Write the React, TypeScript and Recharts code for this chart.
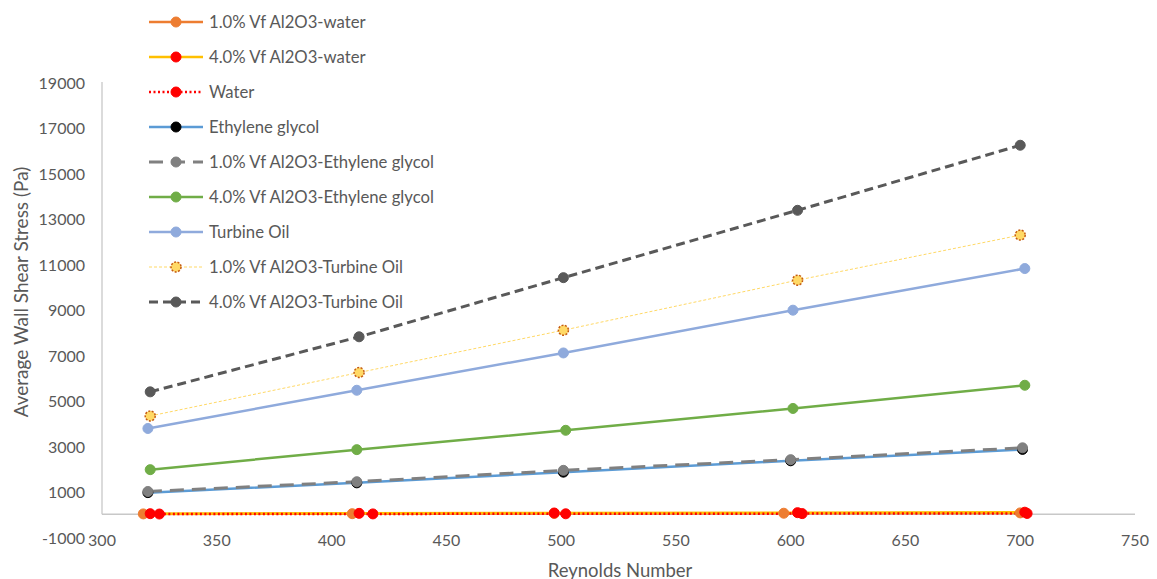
import React from 'react';
import { LineChart, Line, XAxis, YAxis, ReferenceLine } from 'recharts';

// Reynolds numbers (x) and average wall shear stress in Pa (y)
const reWater1 = [318, 409, 497, 597, 700];
const tauWater1 = [15, 25, 35, 45, 60];
const reWater4 = [321, 412, 497, 603, 702];
const tauWater4 = [25, 40, 55, 70, 90];
const reWater = [325, 418, 502, 605, 703];
const tauWater = [10, 15, 20, 28, 35];
const reEG = [320, 411, 501, 600, 701];
const tauEG = [950, 1380, 1850, 2350, 2850];
const reEG1 = [320, 411, 501, 600, 701];
const tauEG1 = [1000, 1430, 1930, 2400, 2920];
const reEG4 = [321, 411, 502, 601, 702];
const tauEG4 = [1960, 2840, 3690, 4650, 5670];
const reTO = [320, 411, 501, 601, 702];
const tauTO = [3770, 5450, 7090, 8970, 10800];
const reTO1 = [321, 412, 501, 603, 700];
const tauTO1 = [4320, 6230, 8090, 10290, 12270];
const reTO4 = [321, 412, 501, 603, 700];
const tauTO4 = [5380, 7800, 10400, 13360, 16220];

const xTicks = [300, 350, 400, 450, 500, 550, 600, 650, 700, 750];
const yTicks = [-1000, 1000, 3000, 5000, 7000, 9000, 11000, 13000, 15000, 17000, 19000];

const toRows = (re: number[], tau: number[]) => re.map((x, i) => ({ re: x, tau: tau[i] }));

type Series = {
  name: string;
  re: number[];
  tau: number[];
  stroke: string;
  width: number;
  dash?: string;
  dotFill: string;
  dotStroke?: string;
  dotDash?: string;
};

const series: Series[] = [
  { name: '1.0% Vf Al2O3-water', re: reWater1, tau: tauWater1, stroke: '#ED7D31', width: 2.5, dotFill: '#ED7D31' },
  { name: '4.0% Vf Al2O3-water', re: reWater4, tau: tauWater4, stroke: '#FFC000', width: 2.5, dotFill: '#FF0000' },
  { name: 'Water', re: reWater, tau: tauWater, stroke: '#FF0000', width: 2.5, dash: '2 2.5', dotFill: '#FF0000' },
  { name: 'Ethylene glycol', re: reEG, tau: tauEG, stroke: '#5B9BD5', width: 2.5, dotFill: '#000000' },
  { name: '1.0% Vf Al2O3-Ethylene glycol', re: reEG1, tau: tauEG1, stroke: '#808080', width: 3, dash: '14 8', dotFill: '#808080' },
  { name: '4.0% Vf Al2O3-Ethylene glycol', re: reEG4, tau: tauEG4, stroke: '#70AD47', width: 2.5, dotFill: '#70AD47' },
  { name: 'Turbine Oil', re: reTO, tau: tauTO, stroke: '#8FAADC', width: 2.5, dotFill: '#8FAADC' },
  { name: '1.0% Vf Al2O3-Turbine Oil', re: reTO1, tau: tauTO1, stroke: '#FFD966', width: 1, dash: '3 2', dotFill: '#FFD966', dotStroke: '#C55A11', dotDash: '2 1.5' },
  { name: '4.0% Vf Al2O3-Turbine Oil', re: reTO4, tau: tauTO4, stroke: '#595959', width: 3, dash: '9 5', dotFill: '#595959' },
];

const FONT = 'Lato, "Open Sans", sans-serif';
const GREY = '#595959';

const makeDot = (s: Series) => (p: any) => (
  <circle
    key={p.key ?? `${s.name}-${p.index}`}
    cx={p.cx}
    cy={p.cy}
    r={5}
    fill={s.dotFill}
    stroke={s.dotStroke ?? s.dotFill}
    strokeWidth={s.dotStroke ? 1.5 : 1}
    strokeDasharray={s.dotDash ?? 'none'}
  />
);

const XTick = (p: any) => (
  <text x={p.x} y={540} textAnchor="middle" dy="0.35em" fill={GREY} fontSize={16} fontFamily={FONT}>
    {p.payload.value}
  </text>
);

const YTick = (p: any) => (
  <text x={85} y={p.y + 1} textAnchor="end" dy="0.35em" fill={GREY} fontSize={16} fontFamily={FONT}>
    {p.payload.value}
  </text>
);

function LegendBox() {
  return (
    <div style={{ position: 'absolute', left: 148, top: 5, fontFamily: FONT, fontSize: 16.7, color: GREY }}>
      {series.map((s) => (
        <div key={s.name} style={{ display: 'flex', alignItems: 'center', height: 34.9 }}>
          <svg width={56} height={14} style={{ display: 'block' }}>
            <line x1={1} y1={7} x2={55} y2={7} stroke={s.stroke} strokeWidth={s.width} strokeDasharray={s.dash} />
            <circle
              cx={28}
              cy={7}
              r={5}
              fill={s.dotFill}
              stroke={s.dotStroke ?? s.dotFill}
              strokeWidth={s.dotStroke ? 1.5 : 1}
              strokeDasharray={s.dotDash ?? 'none'}
            />
          </svg>
          <span style={{ marginLeft: 5, whiteSpace: 'nowrap' }}>{s.name}</span>
        </div>
      ))}
    </div>
  );
}

export default function App() {
  return (
    <div style={{ position: 'absolute', left: 0, top: 0, width: 1157, height: 579, background: '#fff' }}>
      <LineChart width={1157} height={579} margin={{ top: 82, right: 22, bottom: 0, left: 40 }}>
        <XAxis
          type="number"
          dataKey="re"
          domain={[300, 750]}
          ticks={xTicks}
          allowDataOverflow
          axisLine={false}
          tickLine={false}
          height={42}
          tick={<XTick />}
        />
        <YAxis
          type="number"
          domain={[-1000, 19000]}
          ticks={yTicks}
          allowDataOverflow
          axisLine={false}
          tickLine={false}
          width={62}
          tick={<YTick />}
        />
        <ReferenceLine y={0} stroke="#C8C8C8" strokeWidth={1.3} />
        <ReferenceLine segment={[{ x: 300, y: 0 }, { x: 300, y: 19000 }]} stroke="#C8C8C8" strokeWidth={1.3} />
        {series.map((s) => (
          <Line
            key={s.name}
            name={s.name}
            data={toRows(s.re, s.tau)}
            dataKey="tau"
            type="linear"
            stroke={s.stroke}
            strokeWidth={s.width}
            strokeDasharray={s.dash}
            dot={makeDot(s)}
            activeDot={false}
            isAnimationActive={false}
          />
        ))}
      </LineChart>
      <div
        style={{
          position: 'absolute',
          left: 20,
          top: 292,
          transform: 'translate(-50%, -50%) rotate(-90deg)',
          fontFamily: FONT,
          fontSize: 19,
          color: GREY,
          whiteSpace: 'nowrap',
        }}
      >
        Average Wall Shear Stress (Pa)
      </div>
      <div
        style={{
          position: 'absolute',
          left: 620,
          top: 570,
          transform: 'translate(-50%, -50%)',
          fontFamily: FONT,
          fontSize: 18.5,
          color: GREY,
          whiteSpace: 'nowrap',
        }}
      >
        Reynolds Number
      </div>
      <LegendBox />
    </div>
  );
}
